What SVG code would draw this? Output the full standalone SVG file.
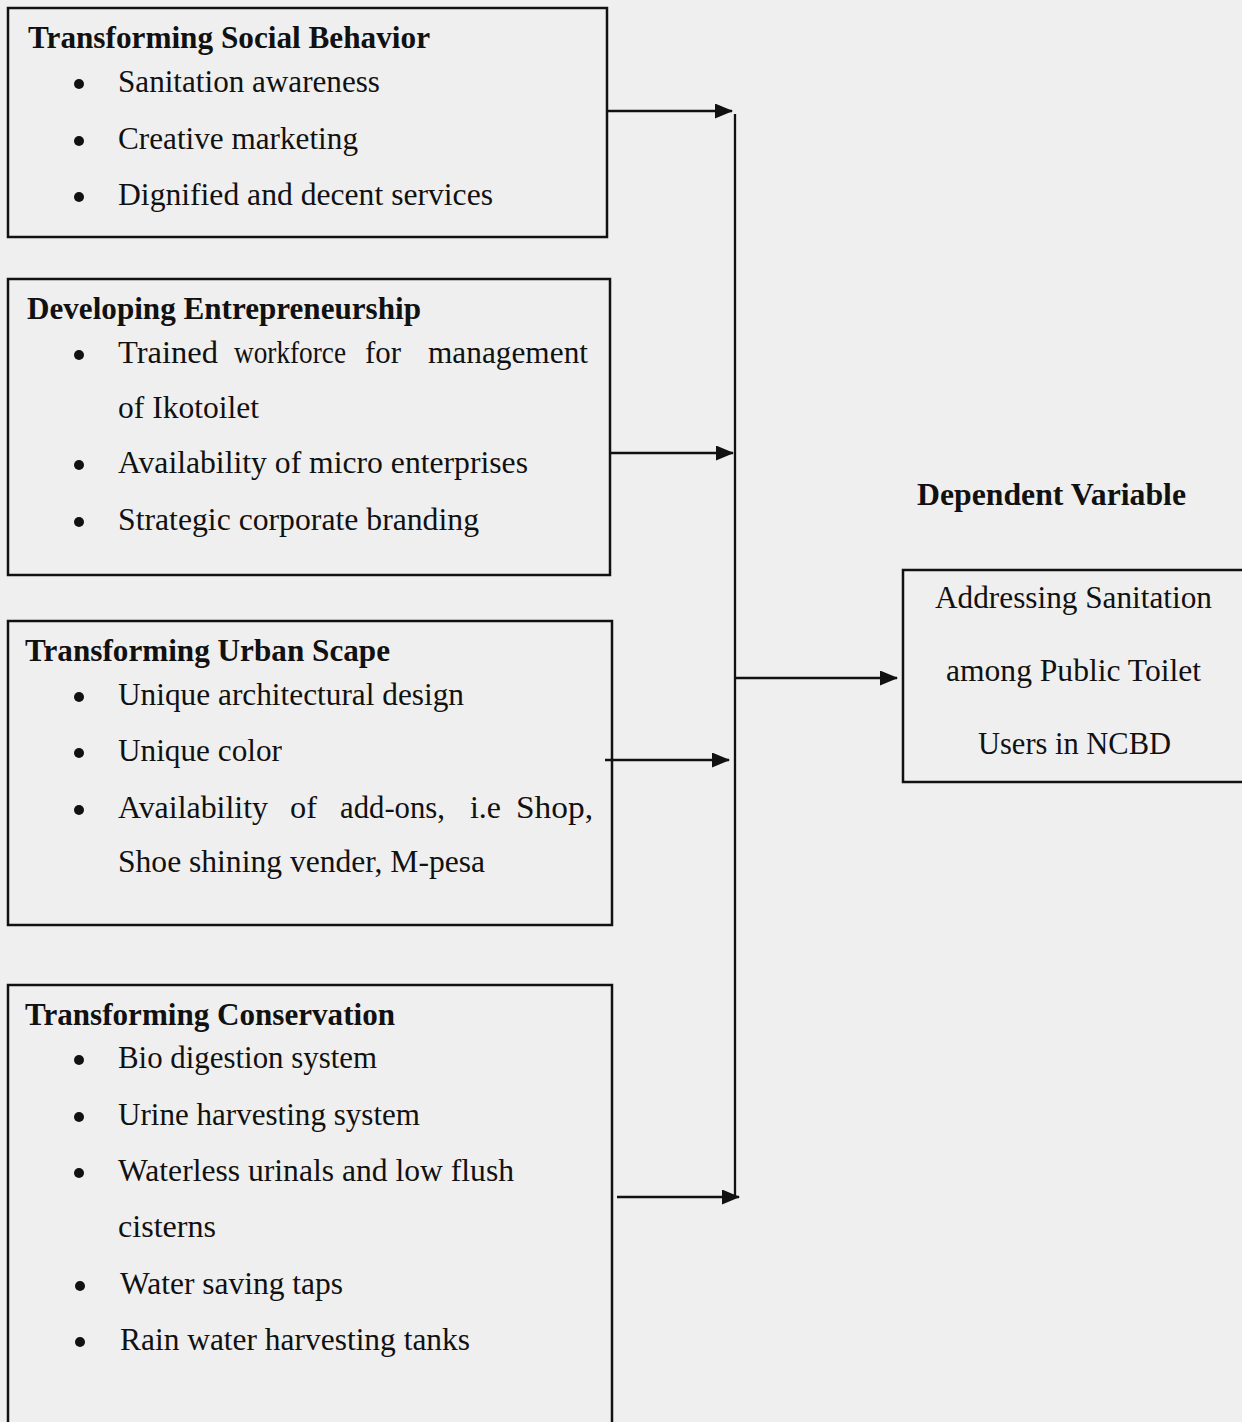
<svg xmlns="http://www.w3.org/2000/svg" width="1242" height="1422" viewBox="0 0 1242 1422">
<style>
.bg{fill:#efefef}
.box{fill:none;stroke:#111;stroke-width:2.5}
.t{font-family:"Liberation Serif","Times New Roman",serif;font-size:31px;fill:#111}
.b{font-weight:bold}
.dot{fill:#111}
.ln{stroke:#111;stroke-width:2.3;fill:none}
</style>
<defs>
<marker id="ah" markerWidth="18" markerHeight="15" refX="17" refY="7.5" orient="auto" markerUnits="userSpaceOnUse">
<path d="M0,0 L18,7.5 L0,15 Z" fill="#111"/>
</marker>
</defs>
<rect class="bg" x="0" y="0" width="1242" height="1422"/>

<g id="node-social">
<rect class="box" x="8" y="8" width="599" height="229"/>
<text class="t b" x="28" y="48" textLength="402" lengthAdjust="spacingAndGlyphs">Transforming Social Behavior</text>
<circle class="dot" cx="79" cy="84" r="5"/>
<text class="t" x="118" y="92" textLength="262" lengthAdjust="spacingAndGlyphs">Sanitation awareness</text>
<circle class="dot" cx="79" cy="141" r="5"/>
<text class="t" x="118" y="149" textLength="240" lengthAdjust="spacingAndGlyphs">Creative marketing</text>
<circle class="dot" cx="79" cy="197" r="5"/>
<text class="t" x="118" y="205" textLength="375" lengthAdjust="spacingAndGlyphs">Dignified and decent services</text>
</g>

<g id="node-entrepreneurship">
<rect class="box" x="8" y="279" width="602" height="296"/>
<text class="t b" x="27" y="319" textLength="394" lengthAdjust="spacingAndGlyphs">Developing Entrepreneurship</text>
<circle class="dot" cx="79" cy="355" r="5"/>
<text class="t" y="363"><tspan x="118" textLength="100" lengthAdjust="spacingAndGlyphs">Trained</tspan><tspan x="234" textLength="112" lengthAdjust="spacingAndGlyphs">workforce</tspan><tspan x="365" textLength="36" lengthAdjust="spacingAndGlyphs">for</tspan><tspan x="428" textLength="160" lengthAdjust="spacingAndGlyphs">management</tspan></text>
<text class="t" x="118" y="418" textLength="141" lengthAdjust="spacingAndGlyphs">of Ikotoilet</text>
<circle class="dot" cx="79" cy="465" r="5"/>
<text class="t" x="118" y="473" textLength="410" lengthAdjust="spacingAndGlyphs">Availability of micro enterprises</text>
<circle class="dot" cx="79" cy="522" r="5"/>
<text class="t" x="118" y="530" textLength="361" lengthAdjust="spacingAndGlyphs">Strategic corporate branding</text>
</g>

<g id="node-urban">
<rect class="box" x="8" y="621" width="604" height="304"/>
<text class="t b" x="25" y="661" textLength="365" lengthAdjust="spacingAndGlyphs">Transforming Urban Scape</text>
<circle class="dot" cx="79" cy="697" r="5"/>
<text class="t" x="118" y="705" textLength="346" lengthAdjust="spacingAndGlyphs">Unique architectural design</text>
<circle class="dot" cx="79" cy="753" r="5"/>
<text class="t" x="118" y="761" textLength="164" lengthAdjust="spacingAndGlyphs">Unique color</text>
<circle class="dot" cx="79" cy="810" r="5"/>
<text class="t" y="818"><tspan x="118" textLength="150" lengthAdjust="spacingAndGlyphs">Availability</tspan><tspan x="290" textLength="27" lengthAdjust="spacingAndGlyphs">of</tspan><tspan x="340" textLength="105" lengthAdjust="spacingAndGlyphs">add-ons,</tspan><tspan x="470" textLength="31" lengthAdjust="spacingAndGlyphs">i.e</tspan><tspan x="516" textLength="77" lengthAdjust="spacingAndGlyphs">Shop,</tspan></text>
<text class="t" x="118" y="872" textLength="367" lengthAdjust="spacingAndGlyphs">Shoe shining vender, M-pesa</text>
</g>

<g id="node-conservation">
<rect class="box" x="8" y="985" width="604" height="450"/>
<text class="t b" x="25" y="1025" textLength="370" lengthAdjust="spacingAndGlyphs">Transforming Conservation</text>
<circle class="dot" cx="79" cy="1060" r="5"/>
<text class="t" x="118" y="1068" textLength="259" lengthAdjust="spacingAndGlyphs">Bio digestion system</text>
<circle class="dot" cx="79" cy="1117" r="5"/>
<text class="t" x="118" y="1125" textLength="302" lengthAdjust="spacingAndGlyphs">Urine harvesting system</text>
<circle class="dot" cx="79" cy="1173" r="5"/>
<text class="t" x="118" y="1181" textLength="396" lengthAdjust="spacingAndGlyphs">Waterless urinals and low flush</text>
<text class="t" x="118" y="1237" textLength="98" lengthAdjust="spacingAndGlyphs">cisterns</text>
<circle class="dot" cx="80" cy="1286" r="5"/>
<text class="t" x="120" y="1294" textLength="223" lengthAdjust="spacingAndGlyphs">Water saving taps</text>
<circle class="dot" cx="80" cy="1342" r="5"/>
<text class="t" x="120" y="1350" textLength="350" lengthAdjust="spacingAndGlyphs">Rain water harvesting tanks</text>
</g>

<g id="label-dependent">
<text class="t b" x="917" y="505" textLength="269" lengthAdjust="spacingAndGlyphs">Dependent Variable</text>
</g>

<g id="node-dependent">
<rect class="box" x="903" y="570" width="345" height="212"/>
<text class="t" x="935" y="608" textLength="277" lengthAdjust="spacingAndGlyphs">Addressing Sanitation</text>
<text class="t" x="946" y="681" textLength="255" lengthAdjust="spacingAndGlyphs">among Public Toilet</text>
<text class="t" x="978" y="754" textLength="193" lengthAdjust="spacingAndGlyphs">Users in NCBD</text>
</g>

<g id="connectors">
<line class="ln" x1="607" y1="111" x2="732" y2="111" marker-end="url(#ah)"/>
<line class="ln" x1="610" y1="453" x2="733" y2="453" marker-end="url(#ah)"/>
<line class="ln" x1="605" y1="760" x2="729" y2="760" marker-end="url(#ah)"/>
<line class="ln" x1="617" y1="1197" x2="739" y2="1197" marker-end="url(#ah)"/>
<line class="ln" x1="735" y1="114" x2="735" y2="1197"/>
<line class="ln" x1="735" y1="678" x2="897" y2="678" marker-end="url(#ah)"/>
</g>
</svg>
